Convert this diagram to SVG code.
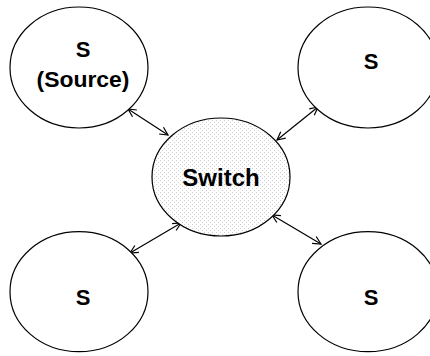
<svg xmlns="http://www.w3.org/2000/svg" width="430" height="356" viewBox="0 0 430 356">
  <style>
    .node { fill: #ffffff; stroke: #000000; stroke-width: 1.2; }
    .sw { fill: url(#dots); stroke: #000000; stroke-width: 1.2; }
    .lbl { font-family: "Liberation Sans", Arial, sans-serif; font-weight: bold; fill: #000000; text-anchor: middle; }
    .conn { stroke: #000000; stroke-width: 1.2; fill: none; marker-start: url(#arr); marker-end: url(#arr); }
  </style>
  <defs>
    <pattern id="dots" width="4" height="4" patternUnits="userSpaceOnUse">
      <rect width="4" height="4" fill="#ffffff"/>
      <rect x="0" y="0" width="1" height="1" fill="#cfcfcf"/>
      <rect x="2" y="2" width="1" height="1" fill="#cfcfcf"/>
    </pattern>
    <marker id="arr" viewBox="0 0 10 10" refX="9" refY="5" markerWidth="10" markerHeight="10" markerUnits="userSpaceOnUse" orient="auto-start-reverse">
      <path d="M1,1 L9,5 L1,9" fill="none" stroke="#000000" stroke-width="1.2"/>
    </marker>
  </defs>
  <g id="connectors">
    <line class="conn" x1="128" y1="109" x2="168" y2="135"/>
    <line class="conn" x1="318" y1="107" x2="277" y2="140"/>
    <line class="conn" x1="130" y1="253" x2="181" y2="223"/>
    <line class="conn" x1="272" y1="215" x2="321" y2="244"/>
  </g>
  <g id="switch">
    <ellipse class="sw" cx="221" cy="177" rx="69" ry="59"/>
    <text class="lbl" x="221" y="185.5" font-size="24">Switch</text>
  </g>
  <g id="source">
    <ellipse class="node" cx="79" cy="67.5" rx="69" ry="60.5"/>
    <text class="lbl" x="83" y="57" font-size="22">S</text>
    <text class="lbl" x="83" y="87" font-size="22" textLength="93" lengthAdjust="spacingAndGlyphs">(Source)</text>
  </g>
  <g id="s-top-right">
    <ellipse class="node" cx="368" cy="67.5" rx="70" ry="60.5"/>
    <text class="lbl" x="371" y="69" font-size="22">S</text>
  </g>
  <g id="s-bottom-left">
    <ellipse class="node" cx="79" cy="291.7" rx="69" ry="60"/>
    <text class="lbl" x="83" y="305" font-size="22">S</text>
  </g>
  <g id="s-bottom-right">
    <ellipse class="node" cx="368" cy="291.7" rx="70" ry="60"/>
    <text class="lbl" x="371" y="305" font-size="22">S</text>
  </g>
</svg>
